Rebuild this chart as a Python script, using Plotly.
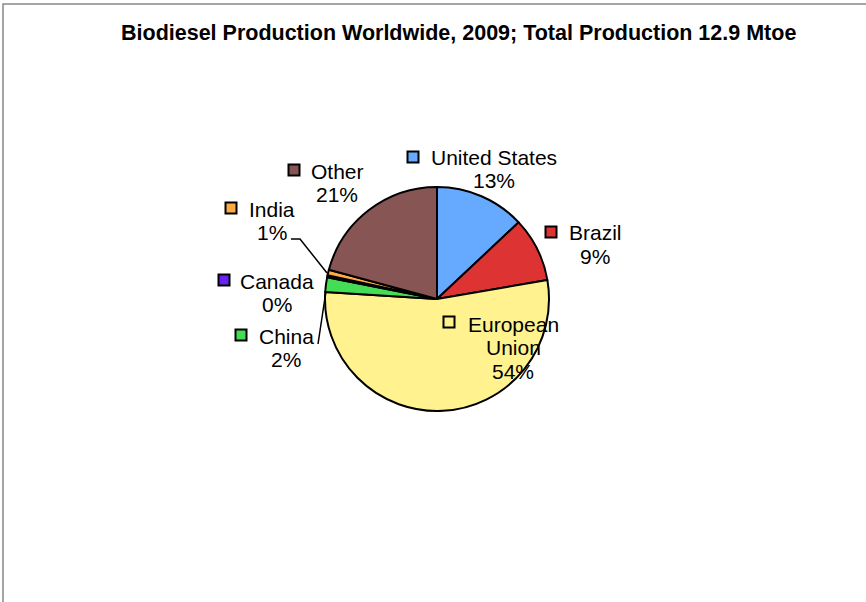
import plotly.graph_objects as go

W, H = 866, 602

countries = ["United States", "Brazil", "European Union", "China", "Canada", "India", "Other"]
shares = [13.0, 9.3, 53.7, 2.1, 0.3, 0.8, 20.8]
colors = ["#66AAFF", "#DD3333", "#FFF28F", "#44DD55", "#6622EE", "#FFAA44", "#885555"]
label_lines = [["United States"], ["Brazil"], ["European", "Union"], ["China"], ["Canada"], ["India"], ["Other"]]
title_text = "Biodiesel Production Worldwide, 2009; Total Production 12.9 Mtoe"

# label layout (pixel positions of text center of first line, and square key)
label_pos = [(494, 157), (595, 233), (513, 324), (286, 336), (277, 281), (272, 209), (337, 171)]
key_pos = [(413, 157), (551, 232), (449, 322), (241, 335), (224, 280), (231, 208), (294, 170)]
LINE_H = 23.5

FONT = "Liberation Sans, Arial, sans-serif"

def fx(x):
    return x / W

def fy(y):
    return 1 - y / H

cx, cy, r = 437, 299, 112

fig = go.Figure()
fig.add_trace(go.Pie(
    labels=countries,
    values=shares,
    sort=False,
    direction="clockwise",
    rotation=0,
    marker=dict(colors=colors, line=dict(color="black", width=2)),
    textinfo="none",
    hoverinfo="label+percent",
    domain=dict(x=[fx(cx - r), fx(cx + r)], y=[fy(cy + r), fy(cy - r)]),
    showlegend=False,
))

total = sum(shares)
annotations = []
shapes = []
for i, name in enumerate(countries):
    pct = round(shares[i] / total * 100)
    lines = label_lines[i] + [f"{pct}%"]
    tx, ty = label_pos[i]
    for j, line in enumerate(lines):
        annotations.append(dict(
            x=fx(tx), y=fy(ty + j * LINE_H), xref="paper", yref="paper",
            xanchor="center", yanchor="middle",
            text=line, showarrow=False, align="center",
            font=dict(family=FONT, size=21, color="black"),
        ))
    kx, ky = key_pos[i]
    shapes.append(dict(
        type="rect", xref="paper", yref="paper",
        x0=fx(kx - 5.5), x1=fx(kx + 5.5), y0=fy(ky + 5.5), y1=fy(ky - 5.5),
        fillcolor=colors[i], line=dict(color="black", width=2),
    ))

# leader lines (India, China)
shapes.append(dict(type="path", xref="paper", yref="paper",
                   path=f"M {fx(291)},{fy(239)} L {fx(300)},{fy(239)} L {fx(327)},{fy(273)}",
                   line=dict(color="black", width=1.5)))
shapes.append(dict(type="line", xref="paper", yref="paper",
                   x0=fx(318), y0=fy(344), x1=fx(326), y1=fy(291),
                   line=dict(color="black", width=1.5)))
# outer border
shapes.append(dict(type="rect", xref="paper", yref="paper",
                   x0=fx(3), x1=fx(900), y0=fy(640), y1=fy(4),
                   line=dict(color="#888888", width=1.5), fillcolor="rgba(0,0,0,0)"))

annotations.append(dict(
    x=fx(458), y=fy(33), xref="paper", yref="paper", xanchor="center", yanchor="middle",
    text=f"<b>{title_text}</b>", showarrow=False,
    font=dict(family=FONT, size=21.5, color="black"),
))

fig.update_layout(
    width=W, height=H,
    margin=dict(l=0, r=0, t=0, b=0),
    paper_bgcolor="white", plot_bgcolor="white",
    annotations=annotations, shapes=shapes,
)

fig.write_html("out.html")
